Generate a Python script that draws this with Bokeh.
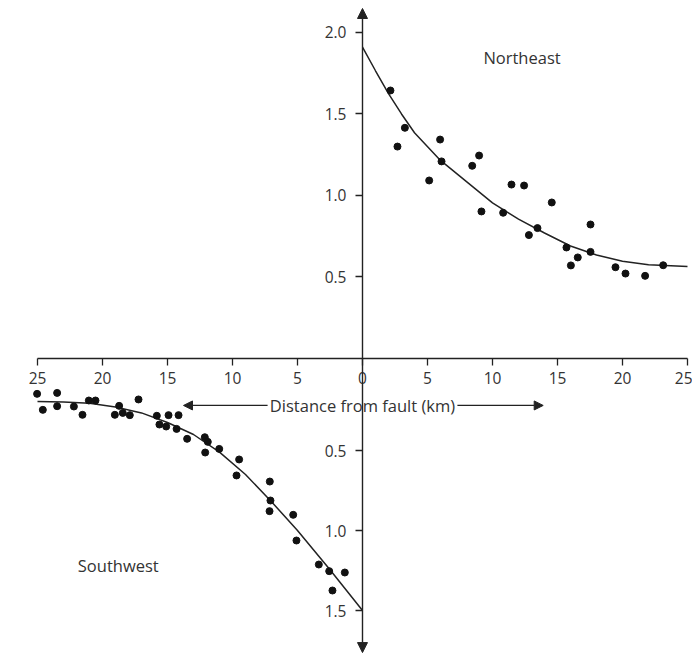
from bokeh.plotting import figure
from bokeh.models import (Range1d, LinearAxis, FixedTicker, NumeralTickFormatter,
                          Arrow, NormalHead, Label)
from bokeh.embed import file_html
from bokeh.resources import INLINE

# ---- data ----
ne_dist = [2.15, 2.69, 3.26, 5.13, 5.97, 6.08, 8.44, 8.97, 9.15, 10.82, 11.46, 12.43,
           12.8, 13.46, 14.56, 15.69, 16.03, 16.56, 17.54, 17.54, 19.46, 20.23, 21.74, 23.13]
ne_val = [1.644, 1.30, 1.415, 1.092, 1.343, 1.209, 1.182, 1.245, 0.902, 0.894, 1.067, 1.061,
          0.757, 0.80, 0.957, 0.681, 0.571, 0.62, 0.822, 0.654, 0.56, 0.521, 0.507, 0.572]

ne_curve_dist = [0, 1, 2, 3, 4, 6, 8, 10, 12, 14, 16, 18, 20, 22, 25]
ne_curve_val = [1.91, 1.765, 1.625, 1.50, 1.385, 1.215, 1.085, 0.955, 0.855, 0.77, 0.69,
                0.635, 0.597, 0.575, 0.564]

sw_dist = [25.03, 24.59, 23.49, 23.49, 22.2, 21.54, 21.05, 20.54, 19.05, 18.72, 18.44, 17.9,
           17.23, 15.82, 15.62, 15.1, 14.92, 14.15, 14.3, 13.49, 12.13, 11.9, 12.1, 11.02,
           9.49, 9.69, 7.13, 7.08, 7.15, 5.33, 5.08, 3.36, 2.56, 1.36, 2.31]
sw_val = [0.146, 0.246, 0.14, 0.223, 0.225, 0.277, 0.1875, 0.1875, 0.277, 0.221, 0.265, 0.279,
          0.181, 0.283, 0.3375, 0.35, 0.279, 0.279, 0.365, 0.427, 0.417, 0.446, 0.5125, 0.49,
          0.556, 0.656, 0.694, 0.8125, 0.879, 0.902, 1.0625, 1.2125, 1.254, 1.2625, 1.375]

sw_curve_dist = [25, 23, 21, 19, 17, 15, 13, 11, 9, 7, 5, 2.5, 0]
sw_curve_val = [0.194, 0.197, 0.205, 0.228, 0.265, 0.325, 0.40, 0.51, 0.65, 0.82, 1.0, 1.245, 1.5]

x_ticks = [-25, -20, -15, -10, -5, 0, 5, 10, 15, 20, 25]
upper_ticks = [0.5, 1.0, 1.5, 2.0]
lower_ticks = [0.5, 1.0, 1.5]

FONT = "Open Sans"
TXT = "#333333"
INK = "#222222"
TICK_FS = "15.5px"
LAB_FS = "16.5px"

p = figure(width=692, height=656, output_backend="svg", toolbar_location=None,
           x_range=Range1d(-27.846, 25.385), y_range=Range1d(-1.828, 2.196),
           x_axis_location=None, y_axis_location=None, min_border=0)
p.outline_line_color = None
p.grid.visible = False
p.background_fill_color = "white"
p.border_fill_color = "white"

# lower (southwest) scale runs downward
p.extra_y_ranges = {"lower": Range1d(start=1.7875, end=-2.3125)}

# horizontal distance axis
xa = LinearAxis(fixed_location=0, ticker=FixedTicker(ticks=x_ticks),
                major_label_overrides={t: str(abs(t)) for t in x_ticks},
                bounds=(-25, 25), axis_line_width=1.4, axis_line_color=INK,
                major_tick_out=7, major_tick_in=0, major_tick_line_width=1.3,
                major_tick_line_color=INK, minor_tick_line_color=None,
                major_label_standoff=7,
                major_label_text_font=FONT, major_label_text_font_size=TICK_FS,
                major_label_text_color=TXT)
p.add_layout(xa, "below")

# upper vertical axis
ya = LinearAxis(fixed_location=0, ticker=FixedTicker(ticks=upper_ticks),
                formatter=NumeralTickFormatter(format="0.0"),
                axis_line_color=None, major_tick_out=7, major_tick_in=0,
                major_tick_line_width=1.3, major_tick_line_color=INK,
                minor_tick_line_color=None, major_label_standoff=9,
                major_label_text_font=FONT, major_label_text_font_size=TICK_FS,
                major_label_text_color=TXT)
p.add_layout(ya, "left")

# lower vertical axis
yb = LinearAxis(y_range_name="lower", fixed_location=0, ticker=FixedTicker(ticks=lower_ticks),
                formatter=NumeralTickFormatter(format="0.0"),
                axis_line_color=None, major_tick_out=7, major_tick_in=0,
                major_tick_line_width=1.3, major_tick_line_color=INK,
                minor_tick_line_color=None, major_label_standoff=9,
                major_label_text_font=FONT, major_label_text_font_size=TICK_FS,
                major_label_text_color=TXT)
p.add_layout(yb, "left")

# vertical line with arrowheads at both ends
p.add_layout(Arrow(x_start=0, y_start=-1.804, x_end=0, y_end=2.147,
                   line_width=1.4, line_color=INK,
                   start=NormalHead(size=10, fill_color=INK, line_color=INK),
                   end=NormalHead(size=10, fill_color=INK, line_color=INK)))

# curves
p.line(ne_curve_dist, ne_curve_val, line_width=1.5, line_color=INK)
p.line([-d for d in sw_curve_dist], sw_curve_val, y_range_name="lower",
       line_width=1.5, line_color=INK)

# points
p.scatter(ne_dist, ne_val, size=7, fill_color="#111111", line_color="#111111")
p.scatter([-d for d in sw_dist], sw_val, y_range_name="lower", size=7,
          fill_color="#111111", line_color="#111111")

# labels
p.add_layout(Label(x=9.3, y=1.847, text="Northeast", text_align="left",
                   text_baseline="middle", text_font=FONT, text_font_size=LAB_FS,
                   text_color=TXT))
p.add_layout(Label(x=-21.9, y=1.22, y_range_name="lower", text="Southwest",
                   text_align="left", text_baseline="middle", text_font=FONT,
                   text_font_size=LAB_FS, text_color=TXT))
p.add_layout(Label(x=0, y=-0.288, text="Distance from fault (km)", text_align="center",
                   text_baseline="middle", text_font=FONT, text_font_size=LAB_FS,
                   text_color=TXT))
p.add_layout(Arrow(x_start=-7.3, y_start=-0.288, x_end=-13.77, y_end=-0.288,
                   line_width=1.3, line_color=INK,
                   end=NormalHead(size=9, fill_color=INK, line_color=INK)))
p.add_layout(Arrow(x_start=7.3, y_start=-0.288, x_end=13.9, y_end=-0.288,
                   line_width=1.3, line_color=INK,
                   end=NormalHead(size=9, fill_color=INK, line_color=INK)))

open("out.html", "w").write(file_html(p, INLINE))
